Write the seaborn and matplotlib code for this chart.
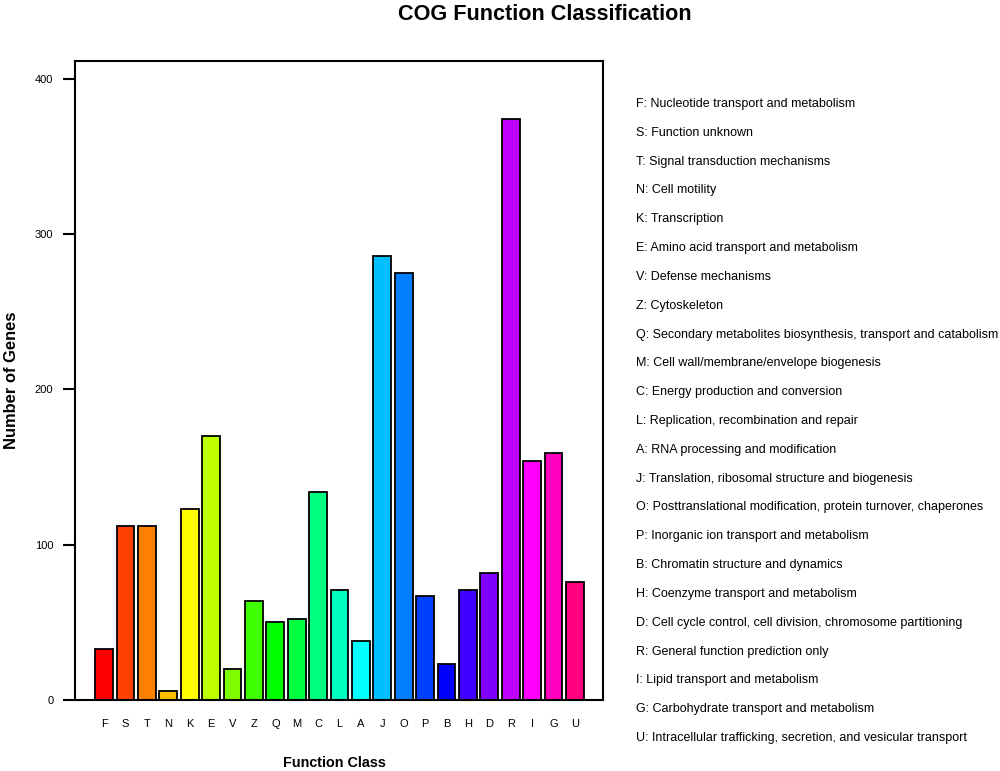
import colorsys
import matplotlib
matplotlib.use("Agg")
import matplotlib.pyplot as plt
import numpy as np
import pandas as pd
import seaborn as sns

categories = ["F", "S", "T", "N", "K", "E", "V", "Z", "Q", "M", "C", "L",
              "A", "J", "O", "P", "B", "H", "D", "R", "I", "G", "U"]
counts = [33, 112, 112, 6, 123, 170, 20, 64, 50, 52, 134, 71,
          38, 286, 275, 67, 23, 71, 82, 374, 154, 159, 76]
descriptions = [
    "F: Nucleotide transport and metabolism",
    "S: Function unknown",
    "T: Signal transduction mechanisms",
    "N: Cell motility",
    "K: Transcription",
    "E: Amino acid transport and metabolism",
    "V: Defense mechanisms",
    "Z: Cytoskeleton",
    "Q: Secondary metabolites biosynthesis, transport and catabolism",
    "M: Cell wall/membrane/envelope biogenesis",
    "C: Energy production and conversion",
    "L: Replication, recombination and repair",
    "A: RNA processing and modification",
    "J: Translation, ribosomal structure and biogenesis",
    "O: Posttranslational modification, protein turnover, chaperones",
    "P: Inorganic ion transport and metabolism",
    "B: Chromatin structure and dynamics",
    "H: Coenzyme transport and metabolism",
    "D: Cell cycle control, cell division, chromosome partitioning",
    "R: General function prediction only",
    "I: Lipid transport and metabolism",
    "G: Carbohydrate transport and metabolism",
    "U: Intracellular trafficking, secretion, and vesicular transport",
]
y_ticks = [0, 100, 200, 300, 400]

sns.set_style("white")
plt.rcParams["font.family"] = ["Liberation Sans", "DejaVu Sans"]
plt.rcParams["text.color"] = "black"
plt.rcParams["axes.labelcolor"] = "black"
plt.rcParams["xtick.color"] = "black"
plt.rcParams["ytick.color"] = "black"

n = len(categories)
# rainbow palette (24 hues, first 23 used)
palette = [colorsys.hsv_to_rgb(i / 24, 1.0, 1.0) for i in range(n)]

df = pd.DataFrame({"cls": categories, "count": counts})

fig = plt.figure(figsize=(10, 7.71), dpi=100)
W, H = 1000, 771
ax = fig.add_axes([75 / W, 1 - 700 / H, (603 - 75) / W, (700 - 61) / H])

sns.barplot(data=df, x="cls", y="count", hue="cls", palette=palette,
            order=categories, hue_order=categories, legend=False,
            width=0.833, edgecolor="black", linewidth=1.3, saturation=1,
            ax=ax)

ax.set_xlim(-1.36, n - 1 + 1.31)
ax.set_ylim(0, max(counts) * 1.1)
ax.set_yticks(y_ticks)
ax.set_yticklabels([str(v) for v in y_ticks], fontsize=8)
ax.tick_params(axis="y", direction="out", length=8.6, width=1.5, pad=7,
               left=True)
ax.tick_params(axis="x", length=0, pad=13.5, labelsize=8)
ax.set_xlabel("")
ax.set_ylabel("")
for sp in ax.spines.values():
    sp.set_visible(True)
    sp.set_linewidth(1.5)
    sp.set_color("black")

fig.text(545 / W, 1 - 14 / H, "COG Function Classification", ha="center",
         va="center", fontsize=15.6, fontweight="bold")
fig.text(12 / W, 1 - 380 / H, "Number of Genes", ha="center", va="center",
         rotation=90, fontsize=11.9, fontweight="bold")
fig.text(334 / W, 1 - 763 / H, "Function Class", ha="center", va="center",
         fontsize=10.4, fontweight="bold")

ys = np.linspace(104, 738, len(descriptions))
for yy, d in zip(ys, descriptions):
    fig.text(636 / W, 1 - yy / H, d, ha="left", va="center", fontsize=9)

fig.savefig("out.png", dpi=100, facecolor="white")
